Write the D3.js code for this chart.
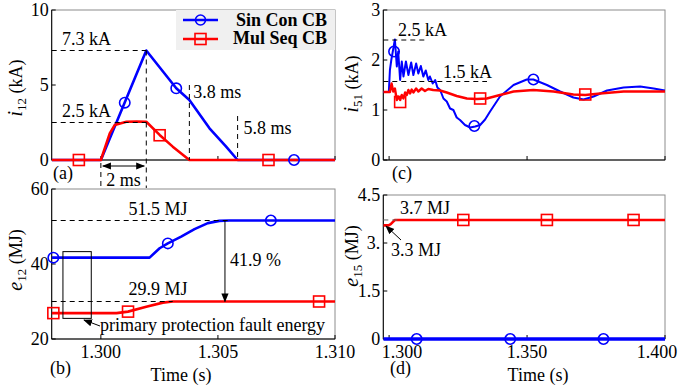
<!DOCTYPE html>
<html>
<head>
<meta charset="utf-8">
<script src="https://cdn.jsdelivr.net/npm/d3@7"></script>
<style>
  body { margin: 0; background: #fff; }
  text { font-family: "Liberation Serif", "Times New Roman", serif; font-size: 18px; fill: #000; }
</style>
</head>
<body>
<div id="chart"></div>
<script>
// (a) i12 (kA) vs time (s)
const tA_sin = [1.2979, 1.3000, 1.30194, 1.30322, 1.30378, 1.30464, 1.30535, 1.30584, 1.3100];
const iA_sin = [0, 0, 7.3, 4.78, 4.0, 2.11, 0.89, 0, 0];
const tA_mul = [1.2979, 1.3000, 1.30038, 1.30059, 1.30109, 1.30152, 1.30194, 1.30251, 1.30307, 1.30378, 1.3100];
const iA_mul = [0, 0, 1.78, 2.33, 2.55, 2.57, 2.55, 1.67, 0.89, 0, 0];
const mkA_sin_t = [1.30102, 1.30322, 1.30825], mkA_sin_v = [3.82, 4.78, 0];
const mkA_mul_t = [1.29906, 1.30251, 1.30716], mkA_mul_v = [0, 1.65, 0];

// (b) e12 (MJ)
const tB_sin = [1.2979, 1.30208, 1.30251, 1.30286, 1.30343, 1.30400, 1.30457, 1.30506, 1.30549, 1.3100];
const eB_sin = [41.7, 41.7, 44.2, 45.5, 47.3, 49.3, 50.9, 51.5, 51.6, 51.6];
const tB_mul = [1.2979, 1.30067, 1.30116, 1.30194, 1.30265, 1.30307, 1.3100];
const eB_mul = [26.9, 26.9, 27.3, 28.6, 29.7, 30.0, 30.0];
const mkB_sin_t = [1.29797, 1.30286, 1.30726], mkB_sin_v = [41.7, 45.5, 51.6];
const mkB_mul_t = [1.29797, 1.30116, 1.30932], mkB_mul_v = [26.9, 27.3, 30.0];

// (c) i51 (kA)
const tC_sin = [1.2979, 1.2999, 1.3003, 1.3008, 1.3021, 1.3028, 1.3033, 1.3040, 1.3046, 1.3052, 1.3061, 1.3070,
  1.3080, 1.3088, 1.3098, 1.3106, 1.3115, 1.3124, 1.3133, 1.3142, 1.3148, 1.3158, 1.3167, 1.3175, 1.3185,
  1.3197, 1.3209, 1.3221, 1.3233, 1.3245, 1.3257, 1.3275, 1.3294, 1.3312, 1.3330, 1.3348, 1.3366, 1.3402,
  1.3451, 1.3499, 1.3523, 1.3572, 1.3620, 1.3668, 1.3705, 1.3741, 1.3790, 1.3850, 1.3910, 1.3959, 1.4000];
const iC_sin = [1.36, 1.36, 1.80, 2.00, 2.41, 1.87, 2.17, 1.60, 1.97, 1.67, 1.97, 1.70,
  1.95, 1.70, 1.93, 1.73, 1.88, 1.67, 1.79, 1.60, 1.67, 1.53, 1.60, 1.45, 1.40,
  1.23, 1.17, 1.03, 1.00, 0.85, 0.80, 0.70, 0.65, 0.67, 0.70, 0.81, 0.97, 1.27,
  1.50, 1.61, 1.61, 1.50, 1.37, 1.25, 1.21, 1.27, 1.39, 1.45, 1.47, 1.43, 1.39];
const tC_mul = [1.2979, 1.3003, 1.3009, 1.3015, 1.3021, 1.3028, 1.3033, 1.3040, 1.3046, 1.3052, 1.3058, 1.3064,
  1.3070, 1.3076, 1.3082, 1.3088, 1.3098, 1.3106, 1.3118, 1.3130, 1.3142, 1.3160, 1.3185, 1.3209, 1.3245,
  1.3282, 1.3318, 1.3354, 1.3402, 1.3451, 1.3523, 1.3596, 1.3668, 1.3711, 1.3765, 1.3850, 1.4000];
const iC_mul = [1.36, 1.36, 1.53, 1.37, 1.43, 1.20, 1.27, 1.20, 1.30, 1.23, 1.35, 1.30,
  1.40, 1.33, 1.41, 1.35, 1.43, 1.37, 1.43, 1.38, 1.42, 1.40, 1.39, 1.35, 1.28,
  1.23, 1.22, 1.23, 1.30, 1.37, 1.40, 1.37, 1.31, 1.30, 1.33, 1.37, 1.37];
const mkC_sin_t = [1.3018, 1.3309, 1.3523], mkC_sin_v = [2.17, 0.68, 1.61];
const mkC_mul_t = [1.3040, 1.3330, 1.3711], mkC_mul_v = [1.16, 1.23, 1.31];

// (d) e15 (MJ)
const tD_sin = [1.2979, 1.4000];
const eD_sin = [0, 0];
const tD_mul = [1.2979, 1.2998, 1.3006, 1.3014, 1.3021, 1.4000];
const eD_mul = [3.55, 3.55, 3.59, 3.66, 3.72, 3.72];
const mkD_sin_t = [1.3100, 1.3439, 1.3777], mkD_sin_v = [0, 0, 0];
const mkD_mul_t = [1.3269, 1.3572, 1.3886], mkD_mul_v = [3.72, 3.72, 3.72];

// ticks
const xTicksB = [1.300, 1.305, 1.310], xLabelsB = ["1.300", "1.305", "1.310"];
const xTicksD = [1.300, 1.350, 1.400], xLabelsD = ["1.300", "1.350", "1.400"];
const yTicksA = [0, 5, 10], yTicksB = [20, 40, 60], yTicksC = [0, 1, 2, 3];
const yTicksD = [0, 1.5, 3, 4.5], yLabelsD = ["0", "1.5", "3.", "4.5"];

const BLUE = "#0000ff", RED = "#ff0000";

const svg = d3.select("#chart").append("svg")
  .attr("width", 678).attr("height", 387);

const defs = svg.append("defs");
const mk = (id, orient) => defs.append("marker")
  .attr("id", id).attr("viewBox", "0 0 10 10").attr("refX", 9).attr("refY", 5)
  .attr("markerWidth", 9).attr("markerHeight", 9).attr("orient", orient)
  .attr("markerUnits", "userSpaceOnUse")
  .append("path").attr("d", "M0,1 L10,5 L0,9 Z").attr("fill", "#000");
mk("ah", "auto");
mk("ahs", "auto-start-reverse");

let clipN = 0;
const panel = (o) => {
  const x = d3.scaleLinear().domain(o.xDom).range([o.left, o.right]);
  const y = d3.scaleLinear().domain(o.yDom).range([o.bottom, o.top]);
  const g = svg.append("g");
  // frame
  g.append("rect").attr("x", o.left).attr("y", o.top)
    .attr("width", o.right - o.left).attr("height", o.bottom - o.top)
    .attr("fill", "none").attr("stroke", "#8c8c8c").attr("stroke-width", 1);
  g.append("line").attr("x1", o.left).attr("x2", o.left).attr("y1", o.top).attr("y2", o.bottom)
    .attr("stroke", "#000");
  g.append("line").attr("x1", o.left).attr("x2", o.right).attr("y1", o.bottom).attr("y2", o.bottom)
    .attr("stroke", "#000");
  // y ticks
  o.yTicks.forEach((v, i) => {
    g.append("line").attr("x1", o.left).attr("x2", o.left + 4).attr("y1", y(v)).attr("y2", y(v))
      .attr("stroke", "#000");
    g.append("text").attr("x", o.left - 3).attr("y", y(v)).attr("dy", "0.33em")
      .attr("text-anchor", "end").text(o.yLabels ? o.yLabels[i] : d3.format("d")(v));
  });
  // x ticks
  o.xTicks.forEach((v, i) => {
    g.append("line").attr("x1", x(v)).attr("x2", x(v)).attr("y1", o.bottom).attr("y2", o.bottom - 4)
      .attr("stroke", "#000");
    if (o.xLabels) {
      g.append("text").attr("x", x(v) + (o.xShift ? o.xShift[i] : 0)).attr("y", o.bottom + 19)
        .attr("text-anchor", "middle").text(o.xLabels[i]);
    }
  });
  // y label
  const yl = g.append("text")
    .attr("transform", `translate(${o.ylx},${o.yly}) rotate(-90)`)
    .attr("text-anchor", "middle");
  yl.append("tspan").attr("font-style", "italic").attr("font-size", "20px").text(o.ysym);
  yl.append("tspan").attr("font-size", "13px").attr("dy", 4).text(o.ysub);
  yl.append("tspan").attr("dy", -4).text(" (" + o.yunit + ")");

  const id = "clip" + (clipN++);
  defs.append("clipPath").attr("id", id).append("rect")
    .attr("x", o.left).attr("y", o.top - 2).attr("width", o.right - o.left).attr("height", o.bottom - o.top + 4);
  const plot = g.append("g").attr("clip-path", `url(#${id})`);
  return { x, y, g, plot };
};

const drawSeries = (p, ts, vs, color, width) => {
  const line = d3.line().x(d => p.x(d[0])).y(d => p.y(d[1]));
  p.plot.append("path").datum(d3.zip(ts, vs)).attr("d", line)
    .attr("fill", "none").attr("stroke", color).attr("stroke-width", width || 2.6)
    .attr("stroke-linejoin", "round");
};
const drawCircles = (p, ts, vs) => {
  p.g.selectAll(null).data(d3.zip(ts, vs)).join("circle")
    .attr("cx", d => p.x(d[0])).attr("cy", d => p.y(d[1])).attr("r", 5.2)
    .attr("fill", "none").attr("stroke", BLUE).attr("stroke-width", 1.6);
};
const drawSquares = (p, ts, vs) => {
  p.g.selectAll(null).data(d3.zip(ts, vs)).join("rect")
    .attr("x", d => p.x(d[0]) - 5.5).attr("y", d => p.y(d[1]) - 5.5)
    .attr("width", 11).attr("height", 11)
    .attr("fill", "none").attr("stroke", RED).attr("stroke-width", 1.6);
};
const dash = (x1, y1, x2, y2, color) => svg.append("line")
  .attr("x1", x1).attr("y1", y1).attr("x2", x2).attr("y2", y2)
  .attr("stroke", color || "#000").attr("stroke-width", 1).attr("stroke-dasharray", "5,4");
const label = (x, y, s, anchor) => svg.append("text").attr("x", x).attr("y", y)
  .attr("text-anchor", anchor || "start").text(s);
const arrow = (x1, y1, x2, y2, both) => svg.append("line")
  .attr("x1", x1).attr("y1", y1).attr("x2", x2).attr("y2", y2)
  .attr("stroke", "#000").attr("stroke-width", 1)
  .attr("marker-end", "url(#ah)").attr("marker-start", both ? "url(#ahs)" : null);

// ---------- (a)
const pa = panel({ left: 51.7, right: 335, top: 10, bottom: 160, xDom: [1.2979, 1.3100], yDom: [0, 10],
  yTicks: yTicksA, xTicks: xTicksB, ylx: 22, yly: 88, ysym: "i", ysub: "12", yunit: "kA" });
const tPeak = 1.30194;
dash(pa.x.range()[0], pa.y(7.3), pa.x(tPeak), pa.y(7.3));
dash(pa.x.range()[0], pa.y(2.5), pa.x(tPeak), pa.y(2.5));
dash(pa.x(tPeak), pa.y(7.3), pa.x(tPeak), 188);
dash(pa.x(1.3000), 163, pa.x(1.3000), 188);
dash(pa.x(1.30378), 85, pa.x(1.30378), 160);
dash(pa.x(1.30584), 116, pa.x(1.30584), 160);
drawSeries(pa, tA_sin, iA_sin, BLUE);
drawSeries(pa, tA_mul, iA_mul, RED);
drawCircles(pa, mkA_sin_t, mkA_sin_v);
drawSquares(pa, mkA_mul_t, mkA_mul_v);
label(62, pa.y(7.3) - 6, "7.3 kA");
label(62, pa.y(2.5) - 6, "2.5 kA");
arrow(pa.x(1.3000) + 2, 166, pa.x(tPeak) - 2, 166, true);
label((pa.x(1.3) + pa.x(tPeak)) / 2, 186, "2 ms", "middle");
label(pa.x(1.30378) + 4, 98, "3.8 ms");
label(pa.x(1.30584) + 6, 134, "5.8 ms");
label(53, 179, "(a)");

// legend
const lg = svg.append("g");
lg.append("rect").attr("x", 176).attr("y", 10).attr("width", 159).attr("height", 40).attr("fill", "#f0f0f0");
[["Sin Con CB", BLUE, 20, 26], ["Mul Seq CB", RED, 39, 44]].forEach(([name, c, ly, ty], i) => {
  lg.append("line").attr("x1", 183).attr("x2", 218).attr("y1", ly).attr("y2", ly)
    .attr("stroke", c).attr("stroke-width", 2.4);
  if (i === 0) lg.append("circle").attr("cx", 200.5).attr("cy", ly).attr("r", 5)
    .attr("fill", "none").attr("stroke", c).attr("stroke-width", 1.6);
  else lg.append("rect").attr("x", 195).attr("y", ly - 5.5).attr("width", 11).attr("height", 11)
    .attr("fill", "none").attr("stroke", c).attr("stroke-width", 1.6);
  lg.append("text").attr("x", 327).attr("y", ty).attr("text-anchor", "end")
    .attr("font-weight", "bold").text(name);
});

// ---------- (b)
const pb = panel({ left: 51.7, right: 335, top: 189, bottom: 339, xDom: [1.2979, 1.3100], yDom: [20, 60],
  yTicks: yTicksB, xTicks: xTicksB, xLabels: xLabelsB, ylx: 22, yly: 260, ysym: "e", ysub: "12", yunit: "MJ" });
dash(pb.x.range()[0], pb.y(51.6), pb.x(1.30549), pb.y(51.6));
dash(pb.x.range()[0], pb.y(30.0), pb.x(1.30307), pb.y(30.0));
drawSeries(pb, tB_sin, eB_sin, BLUE);
drawSeries(pb, tB_mul, eB_mul, RED);
drawCircles(pb, mkB_sin_t, mkB_sin_v);
drawSquares(pb, mkB_mul_t, mkB_mul_v);
svg.append("rect").attr("x", pb.x(1.29838)).attr("y", pb.y(43.3))
  .attr("width", pb.x(1.29959) - pb.x(1.29838)).attr("height", pb.y(25.5) - pb.y(43.3))
  .attr("fill", "none").attr("stroke", "#000").attr("stroke-width", 1);
arrow(pb.x(1.30530), pb.y(51.6), pb.x(1.30530), pb.y(30.0));
label(158, 215, "51.5 MJ", "middle");
label(158, 295, "29.9 MJ", "middle");
label(230, 266, "41.9 %");
arrow(100, 326, 84, 320);
label(100, 331, "primary protection fault energy");
label(50, 374, "(b)");
label(181, 381, "Time (s)", "middle");

// ---------- (c)
const pc = panel({ left: 383.3, right: 665, top: 10, bottom: 160, xDom: [1.2979, 1.4000], yDom: [0, 3],
  yTicks: yTicksC, xTicks: xTicksD, ylx: 358, yly: 84, ysym: "i", ysub: "51", yunit: "kA" });
dash(pc.x.range()[0], pc.y(2.4), 428, pc.y(2.4));
dash(pc.x.range()[0], pc.y(1.57), 487, pc.y(1.57));
drawSeries(pc, tC_sin, iC_sin, BLUE, 2);
drawSeries(pc, tC_mul, iC_mul, RED, 2.4);
drawCircles(pc, mkC_sin_t, mkC_sin_v);
drawSquares(pc, mkC_mul_t, mkC_mul_v);
label(398, 36, "2.5 kA");
label(443, 78, "1.5 kA");
label(392, 179, "(c)");

// ---------- (d)
const pd = panel({ left: 383.3, right: 665, top: 195, bottom: 339, xDom: [1.2979, 1.4000], yDom: [0, 4.5],
  yTicks: yTicksD, yLabels: yLabelsD, xTicks: xTicksD, xLabels: xLabelsD, xShift: [13, 0, -8],
  ylx: 358, yly: 256, ysym: "e", ysub: "15", yunit: "MJ" });
dash(pd.x.range()[0], pd.y(3.72), 400, pd.y(3.72), "#666");
drawSeries(pd, tD_sin, eD_sin, BLUE, 3.5);
drawSeries(pd, tD_mul, eD_mul, RED);
drawCircles(pd, mkD_sin_t, mkD_sin_v);
drawSquares(pd, mkD_mul_t, mkD_mul_v);
label(400, 214, "3.7 MJ");
arrow(401, 240, 386, 226);
label(391, 256, "3.3 MJ");
label(390, 374, "(d)");
label(538, 381, "Time (s)", "middle");
</script>
</body>
</html>
